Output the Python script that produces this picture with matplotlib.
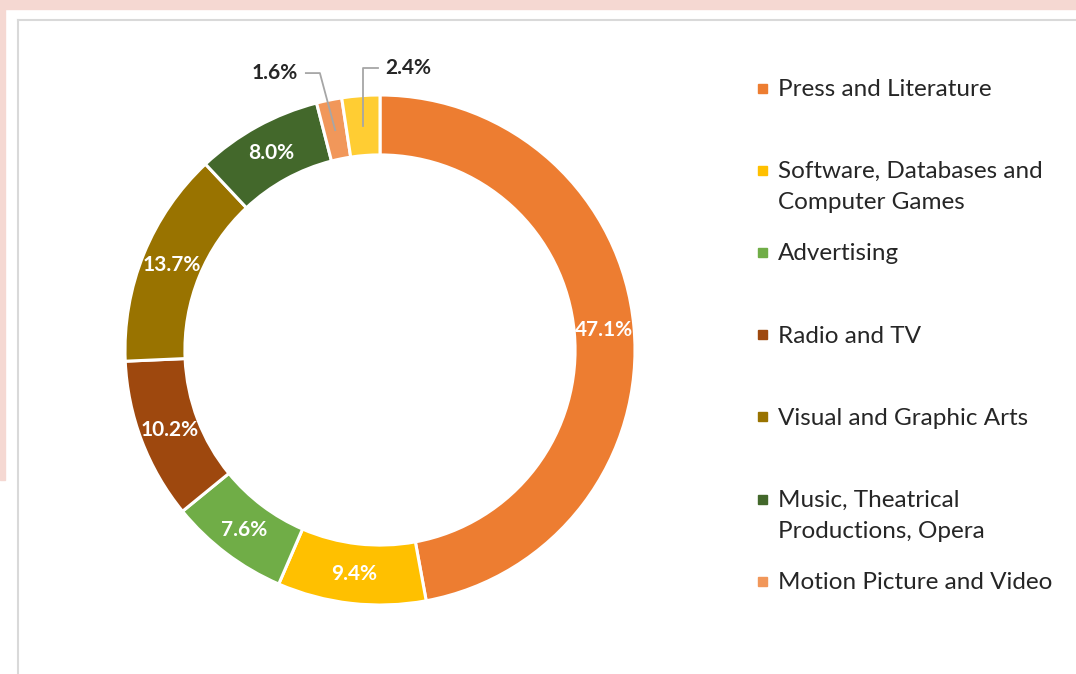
import numpy as np
import matplotlib
matplotlib.use("Agg")
import matplotlib.pyplot as plt
from matplotlib.patches import Rectangle

# data
categories = ["Press and Literature", "Software, Databases and\nComputer Games",
              "Advertising", "Radio and TV", "Visual and Graphic Arts",
              "Music, Theatrical\nProductions, Opera", "Motion Picture and Video",
              "Other"]
shares = [47.1, 9.4, 7.6, 10.2, 13.7, 8.0, 1.6, 2.4]
colors = ["#ED7D31", "#FFC000", "#70AD47", "#9E480E", "#997300",
          "#43682B", "#F1975A", "#FFCD33"]
legend_count = 7  # last entry is cut off in the original legend

plt.rcParams['font.family'] = ['Lato', 'DejaVu Sans']
text_col = "#262626"

W, H = 1076, 674
fig = plt.figure(figsize=(W / 100, H / 100), dpi=100)

# pink frame (top strip + left strip) and chart border
fig.patches.append(Rectangle((0, 1 - 9 / H), 1, 9 / H, transform=fig.transFigure,
                             color="#F5D8D2", zorder=0))
fig.patches.append(Rectangle((0, 1 - 480 / H), 5 / W, 480 / H, transform=fig.transFigure,
                             color="#F5D8D2", zorder=0))
fig.add_artist(plt.Line2D([18 / W, 1], [1 - 20 / H, 1 - 20 / H], transform=fig.transFigure,
                          color="#D9D9D9", lw=1.5))
fig.add_artist(plt.Line2D([18 / W, 18 / W], [0, 1 - 20 / H], transform=fig.transFigure,
                          color="#D9D9D9", lw=1.5))

# donut axes: center (380, 350) px, radius 255 px
R = 255
lim = 1.3
cx, cy = 380, 350
side = 2 * lim * R
ax = fig.add_axes([(cx - side / 2) / W, (H - cy - side / 2) / H, side / W, side / H])

width = 0.235
wedges, _ = ax.pie(shares, colors=colors, startangle=90, counterclock=False, radius=1,
                   wedgeprops=dict(width=width, edgecolor="white", linewidth=2.2))
ax.set_xlim(-lim, lim)
ax.set_ylim(-lim, lim)
ax.axis("off")

# labels
cum = np.cumsum([0] + shares[:-1])
rmid = 1 - width / 2
for i, v in enumerate(shares):
    ang = np.deg2rad(90 - (cum[i] + v / 2) * 3.6)
    x, y = rmid * np.cos(ang), rmid * np.sin(ang)
    if v >= 5:
        ax.text(x, y, f"{v:.1f}%", color="white", fontsize=15, fontweight="bold",
                ha="center", va="center")

# outside labels with leader lines for the small slices
def mid_pt(i, r=0.88):
    ang = np.deg2rad(90 - (cum[i] + shares[i] / 2) * 3.6)
    return r * np.cos(ang), r * np.sin(ang)

px, py = mid_pt(6)
ax.plot([px - 0.115, px - 0.06, px], [1.086, 1.086, py], color="#A6A6A6", lw=1.3)
ax.text(px - 0.145, 1.086, f"{shares[6]:.1f}%", ha="right", va="center",
        fontsize=15, fontweight="bold", color=text_col)

qx, qy = mid_pt(7)
ax.plot([qx + 0.058, qx, qx], [1.106, 1.106, qy], color="#A6A6A6", lw=1.3)
ax.text(qx + 0.088, 1.106, f"{shares[7]:.1f}%", ha="left", va="center",
        fontsize=15, fontweight="bold", color=text_col)

# legend
y0, step = 88, 82.2
for i in range(legend_count):
    yy = 1 - (y0 + i * step) / H
    fig.patches.append(Rectangle((758 / W, yy - 4.5 / H), 9 / W, 9 / H,
                                 transform=fig.transFigure, color=colors[i]))
    fig.text(778 / W, yy + 9 / H, categories[i], ha="left", va="top", fontsize=17.5,
             color=text_col, linespacing=1.6)

fig.savefig("out.png", dpi=100)
